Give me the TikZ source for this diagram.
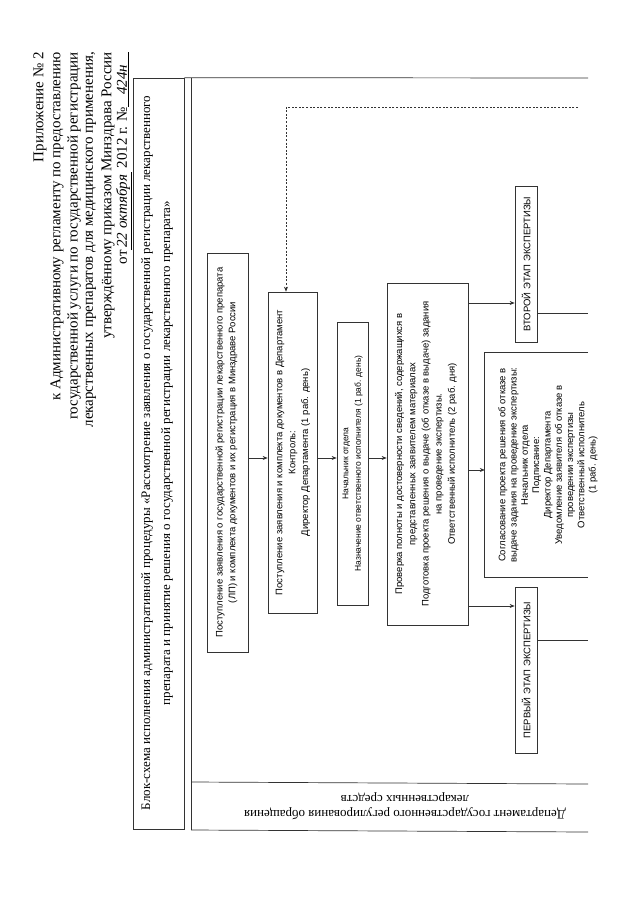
\documentclass[tikz,border=0pt]{standalone}
\usepackage{fontspec}
\setmainfont{Liberation Serif}
\newfontfamily\boxfont{Liberation Sans}
\usetikzlibrary{arrows.meta,fit}
\newcommand{\handw}[2]{\underline{\makebox[#1][c]{\itshape #2}}}
\begin{document}
\begin{tikzpicture}[x=1pt,y=-1pt,
  frameline/.style={draw=black!80, line width=0.7pt},
  box/.style={draw=black!80, line width=0.7pt, inner sep=0pt, rectangle},
  btext/.style={rotate=90, align=center, inner sep=0pt, font=\boxfont\fontsize{9.5}{12.8}\selectfont},
  conn/.style={draw=black!80, line width=0.6pt, -{Stealth[length=5pt,width=4pt]}},
  plainline/.style={draw=black!80, line width=0.6pt},
  dashconn/.style={draw=black!80, line width=0.6pt, dash pattern=on 2pt off 1.6pt, -{Stealth[length=5pt,width=4pt]}},
  hdr/.style={rotate=90, anchor=east, inner sep=0pt, font=\fontsize{15}{17}\selectfont},
]
\useasboundingbox (0,0) rectangle (640,905);

% header
\node[hdr] (h1) at (40,52) {Приложение № 2};
\node[hdr] (h2) at (57,52) {к Административному регламенту по предоставлению};
\node[hdr] (h3) at (74,52) {государственной услуги по государственной регистрации};
\node[hdr] (h4) at (91,52) {лекарственных препаратов для медицинского применения,};
\node[hdr] (h5) at (108,52) {утверждённому приказом Минздрава России};
\node[hdr] (h6) at (124,52) {от\handw{78pt}{22 октября} 2012 г. №\handw{55pt}{424н}};

% title frame
\node[box, fit={(133,78) (184,829)}] (title) {};
\node[rotate=90, align=center, inner sep=0pt, font=\fontsize{13}{20}\selectfont] (titlet) at (157,453)
 {Блок-схема исполнения административной процедуры «Рассмотрение заявления о государственной регистрации лекарственного\\
  препарата и принятие решения о государственной регистрации лекарственного препарата»};

% lane frame
\draw[frameline] (title.north east) -- (588,78);
\draw[frameline] (191,78) -- (191,830);
\draw[frameline] (191,782) -- (588,784);
\draw[frameline] (191,830) -- (588,832);
\node[rotate=180, align=center, inner sep=0pt, font=\fontsize{13}{15}\selectfont] (dept) at (405,806)
 {Департамент государственного регулирования обращения\\ лекарственных средств};

% boxes
\node[box, fit={(207,253) (248,652)}] (b1) {};
\node[btext] (b1t) at (226.5,452.5) {Поступление заявления о государственной регистрации лекарственного препарата\\(ЛП) и комплекта документов и их регистрация в Минздраве России};

\node[box, fit={(268,292) (317,613)}] (b2) {};
\node[btext] (b2t) at (293,452.5) {Поступление заявления и комплекта документов в Департамент\\Контроль:\\Директор Департамента (1 раб. день)};

\node[box, fit={(337,322) (368,605)}] (b3) {};
\node[btext, font=\boxfont\fontsize{8.5}{12.5}\selectfont] (b3t) at (352.5,463.5) {Начальник отдела\\Назначение ответственного исполнителя (1 раб. день)};

\node[box, fit={(387,283) (468,625)}] (b4) {};
\node[btext, font=\boxfont\fontsize{9.5}{13.2}\selectfont] (b4t) at (426,454) {Проверка полноты и достоверности сведений, содержащихся в\\представленных заявителем материалах\\Подготовка проекта решения о выдаче (об отказе в выдаче) задания\\на проведение экспертизы.\\Ответственный исполнитель (2 раб. дня)};

\node[box, fit={(515,186) (537,342)}] (b5) {};
\node[btext] (b5t) at (b5.center) {ВТОРОЙ ЭТАП ЭКСПЕРТИЗЫ};

\node[box, fit={(515,587) (537,753)}] (b6) {};
\node[btext] (b6t) at (b6.center) {ПЕРВЫЙ ЭТАП ЭКСПЕРТИЗЫ};

\node[inner sep=0pt, fit={(485,353) (588,577)}] (sog) {};
\draw[frameline] (sog.north east) -- (sog.north west) -- (sog.south west) -- (sog.south east);
\node[btext, font=\boxfont\fontsize{9.5}{11.3}\selectfont] (sogt) at (548,465) {Согласование проекта решения об отказе в\\выдаче задания на проведение экспертизы:\\Начальник отдела\\Подписание:\\Директор Департамента\\Уведомление заявителя об отказе в\\проведении экспертизы\\Ответственный исполнитель\\(1 раб. день)};

% connectors
\coordinate (r1) at (0,458);
\coordinate (r2) at (0,303);
\coordinate (r3) at (0,470);
\coordinate (r4) at (0,606);
\coordinate (r5) at (0,313);
\coordinate (r6) at (0,640);
\coordinate (e5) at (588,313);
\coordinate (e6) at (588,640);
\draw[conn] (b1.east|-r1) -- (b2.west|-r1);
\draw[conn] (b2.east|-r1) -- (b3.west|-r1);
\draw[conn] (b3.east|-r1) -- (b4.west|-r1);
\draw[conn] (b4.east|-r2) -- (b5.west|-r2);
\draw[conn] (b4.east|-r3) -- (sog.west|-r3);
\draw[conn] (b4.east|-r4) -- (b6.west|-r4);
\draw[plainline] (b5.east|-r5) -- (e5);
\draw[plainline] (b6.east|-r6) -- (e6);
\coordinate (ds) at (578,107);
\coordinate (dk) at (286,107);
\draw[dashconn] (ds) -- (dk) -- (dk|-b2.north);
\end{tikzpicture}
\end{document}
